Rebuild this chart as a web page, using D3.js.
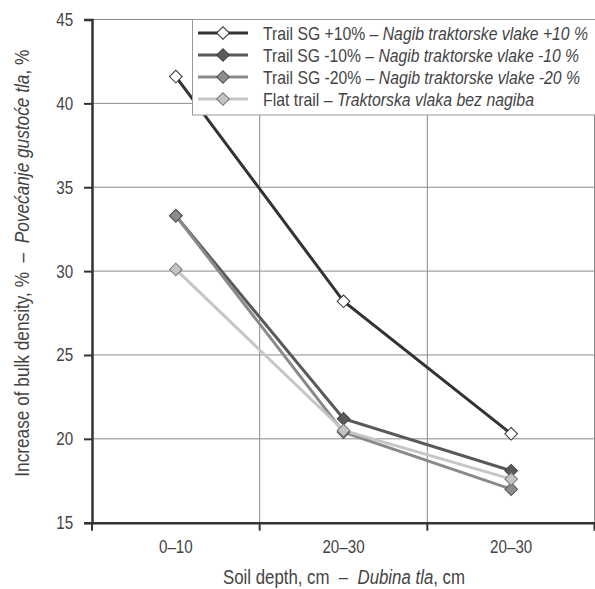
<!DOCTYPE html>
<html>
<head>
<meta charset="utf-8">
<script src="https://cdn.jsdelivr.net/npm/d3@7"></script>
<style>
  body { margin: 0; background: #fff; }
  text { font-family: "Liberation Sans", Arial, sans-serif; fill: #444; white-space: pre; }
</style>
</head>
<body>
<svg width="595" height="589"></svg>
<script>
// data
const depths = ["0–10", "20–30", "20–30"]
const yTicks = [15, 20, 25, 30, 35, 40, 45]
const seriesNames = [
  ["Trail SG +10% – ", "Nagib traktorske vlake +10 %"],
  ["Trail SG -10% – ", "Nagib traktorske vlake -10 %"],
  ["Trail SG -20% – ", "Nagib traktorske vlake -20 %"],
  ["Flat trail – ", "Traktorska vlaka bez nagiba"]
]
const sgPlus10 = [41.6, 28.2, 20.3]
const sgMinus10 = [33.3, 21.2, 18.1]
const sgMinus20 = [33.3, 20.4, 17.0]
const flat = [30.1, 20.5, 17.6]

const series = [sgPlus10, sgMinus10, sgMinus20, flat]
const lineColors = ["#333333", "#595959", "#8a8a8a", "#c6c6c6"]
const markerFill = ["#ffffff", "#5a5a5a", "#8c8c8c", "#c4c4c4"]
const markerStroke = ["#333333", "#444444", "#555555", "#777777"]
const legendWidths = [325, 316, 317, 271]

const svg = d3.select("svg")
const plotL = 92, plotR = 595, plotT = 19.5, plotB = 522.7
const squeeze = 0.82

const x = d3.scaleBand().domain(d3.range(depths.length)).range([plotL, plotR])
const y = d3.scaleLinear().domain([15, 45]).range([plotB, plotT])

// grid
const grid = svg.append("g")
grid.selectAll("line.h")
  .data(yTicks.slice(1))
  .join("line")
  .attr("x1", plotL).attr("x2", plotR)
  .attr("y1", d => y(d)).attr("y2", d => y(d))
  .attr("stroke", "#8a8a8a").attr("stroke-width", 1)
const bounds = d3.range(1, depths.length).map(i => x(i)).concat([plotR - 0.5])
grid.selectAll("line.v")
  .data(bounds)
  .join("line")
  .attr("x1", d => d).attr("x2", d => d)
  .attr("y1", plotT).attr("y2", plotB)
  .attr("stroke", "#8a8a8a").attr("stroke-width", 1)

// axes
const yAxis = svg.append("g")
  .attr("transform", `translate(${plotL},0)`)
  .call(d3.axisLeft(y).tickValues(yTicks).tickSize(8).tickPadding(15))
yAxis.select(".domain").attr("stroke", "#333").attr("stroke-width", 2.5)
yAxis.selectAll(".tick line").attr("stroke", "#333").attr("stroke-width", 2)
yAxis.selectAll("text")
  .attr("font-size", 18.5).attr("fill", "#444")
  .attr("transform", `scale(${squeeze},1)`)
  .style("font-family", '"Liberation Sans", Arial, sans-serif')

const xAxis = svg.append("g")
  .attr("transform", `translate(0,${plotB})`)
  .call(d3.axisBottom(x).tickSize(0).tickPadding(17).tickFormat(i => depths[i]))
xAxis.select(".domain").attr("stroke", "#333").attr("stroke-width", 2.5)
xAxis.selectAll("text")
  .attr("font-size", 18.5).attr("fill", "#444")
  .attr("transform", `scale(${squeeze},1)`)
  .style("font-family", '"Liberation Sans", Arial, sans-serif')
xAxis.selectAll("line.btick")
  .data([plotL].concat(bounds))
  .join("line")
  .attr("x1", d => d).attr("x2", d => d)
  .attr("y1", 0).attr("y2", 8)
  .attr("stroke", "#333").attr("stroke-width", 2)

// lines + markers
const line = d3.line().x((d, i) => x(i) + x.bandwidth() / 2).y(d => y(d))
const diamond = d3.symbol(d3.symbolSquare, 80)

series.forEach((s, k) => {
  svg.append("path")
    .datum(s)
    .attr("d", line)
    .attr("fill", "none")
    .attr("stroke", lineColors[k])
    .attr("stroke-width", 3)
})
series.forEach((s, k) => {
  svg.selectAll(null)
    .data(s)
    .join("path")
    .attr("d", diamond)
    .attr("transform", (d, i) => `translate(${x(i) + x.bandwidth() / 2},${y(d)}) rotate(45)`)
    .attr("fill", markerFill[k])
    .attr("stroke", markerStroke[k])
    .attr("stroke-width", 1)
})

// legend
const lg = svg.append("g")
lg.append("rect")
  .attr("x", 192.5).attr("y", plotT).attr("width", 420).attr("height", 95.5)
  .attr("fill", "#fff").attr("stroke", "#999").attr("stroke-width", 1)
seriesNames.forEach((nm, k) => {
  const cy = 33 + k * 22
  lg.append("line")
    .attr("x1", 198).attr("x2", 248).attr("y1", cy).attr("y2", cy)
    .attr("stroke", lineColors[k]).attr("stroke-width", 3)
  lg.append("path")
    .attr("d", diamond)
    .attr("transform", `translate(223,${cy}) rotate(45)`)
    .attr("fill", markerFill[k])
    .attr("stroke", markerStroke[k])
  const t = lg.append("text")
    .attr("x", 263).attr("y", cy + 6.5)
    .attr("font-size", 18.5)
    .attr("textLength", legendWidths[k])
    .attr("lengthAdjust", "spacingAndGlyphs")
  t.append("tspan").text(nm[0])
  t.append("tspan").attr("font-style", "italic").text(nm[1])
})

// axis titles
const xt = svg.append("text")
  .attr("x", 344 - 121).attr("y", 584)
  .attr("font-size", 20)
  .attr("textLength", 242)
  .attr("lengthAdjust", "spacingAndGlyphs")
xt.append("tspan").text("Soil depth, cm  –  ")
xt.append("tspan").attr("font-style", "italic").text("Dubina tla")
xt.append("tspan").text(", cm")

const yt = svg.append("text")
  .attr("transform", `translate(28.5,476.7) rotate(-90)`)
  .attr("font-size", 20)
  .attr("textLength", 427)
  .attr("lengthAdjust", "spacingAndGlyphs")
yt.append("tspan").text("Increase of bulk density, %  –  ")
yt.append("tspan").attr("font-style", "italic").text("Povećanje gustoće tla")
yt.append("tspan").text(", %")
</script>
</body>
</html>
